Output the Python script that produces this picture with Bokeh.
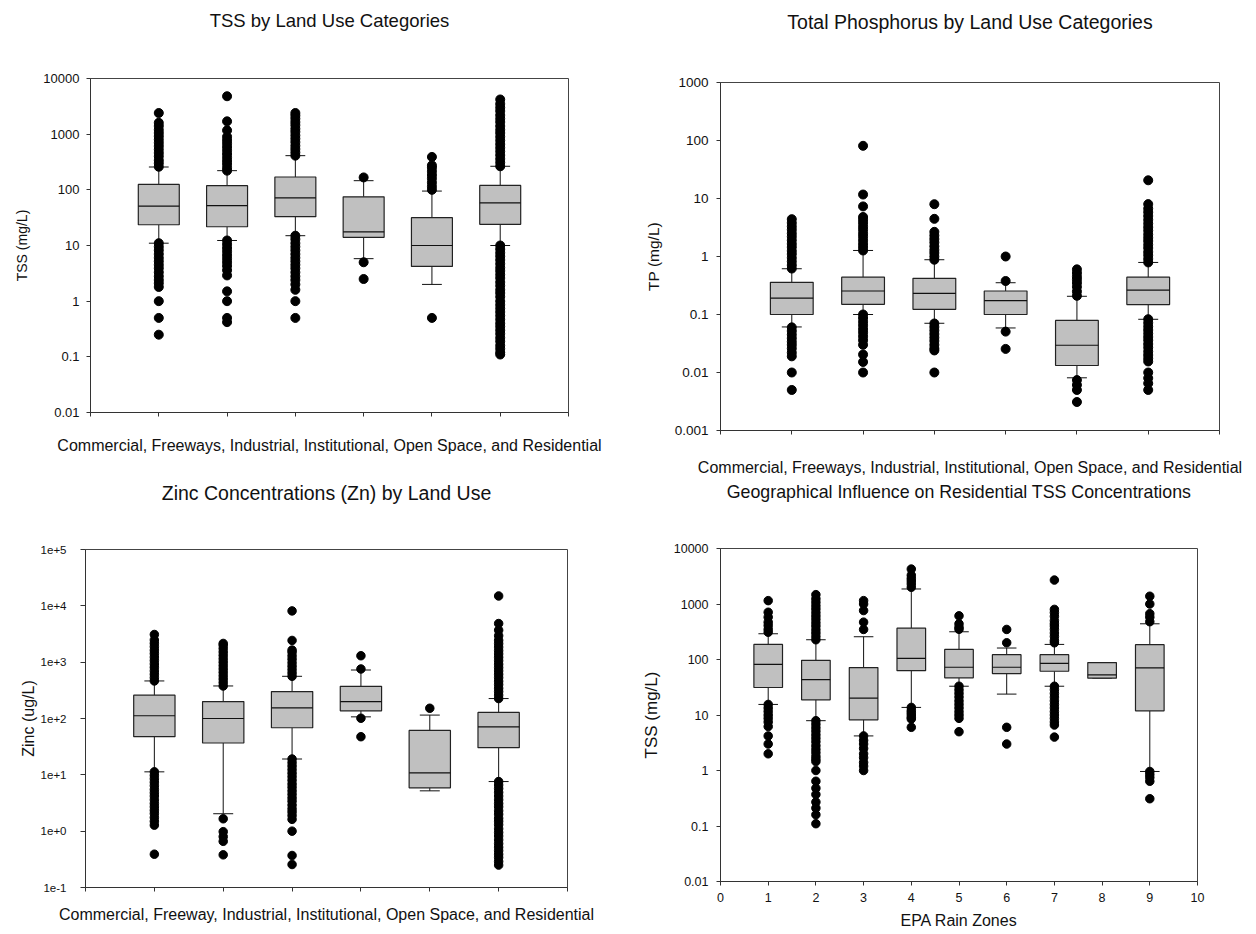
from bokeh.plotting import figure
from bokeh.models import (ColumnDataSource, FixedTicker, CustomJSTickFormatter, Range1d,
                          LinearAxis)
from bokeh.layouts import column, row
from bokeh.embed import file_html
from bokeh.resources import INLINE

FONT = "Liberation Sans"

# ---------------- Panel 1: TSS by land use ----------------
tss_lu_pos = [1, 2, 3, 4, 5, 6]
tss_lu_low = [11, 12.3, 15, 5.8, 2.0, 10]
tss_lu_q1 = [23.6, 21.7, 33, 14, 4.2, 24]
tss_lu_med = [51, 52, 72, 17.6, 10, 58.5]
tss_lu_q3 = [125, 119, 170, 75, 31.6, 120]
tss_lu_high = [257, 221, 411, 146, 95, 265]
tss_lu_out = [
    [260, 300, 340, 400, 460, 530, 610, 700, 800, 920, 1050, 1200, 1400, 1600, 2400,
     11, 9.5, 8.2, 7, 6, 5.2, 4.5, 3.9, 3.3, 2.8, 2.4, 2.1, 1.8, 1, 0.5, 0.25],
    [221, 250, 290, 330, 380, 440, 510, 590, 680, 780, 900, 1170, 1700, 4800,
     12.3, 10.5, 9, 7.8, 6.7, 5.8, 5, 4.3, 3.6, 2.9, 1.5, 1, 0.5, 0.42],
    [411, 470, 540, 620, 720, 830, 950, 1100, 1250, 1450, 1650, 1900, 2150, 2400,
     15, 13, 11, 9.5, 8.2, 7, 6, 5.2, 4.5, 3.9, 3.3, 2.8, 2.4, 2.0, 1.6, 1, 0.5],
    [167, 5.0, 2.5],
    [100, 115, 135, 160, 185, 215, 250, 275, 390, 0.5],
    [265, 310, 360, 420, 490, 570, 660, 770, 900, 1050, 1200, 1400, 1650, 1900, 2200,
     2600, 3000, 3500, 4200,
     10, 8.6, 7.4, 6.4, 5.5, 4.7, 4, 3.5, 3, 2.6, 2.2, 1.9, 1.6, 1.4, 1.2, 1.0, 0.86,
     0.74, 0.64, 0.55, 0.47, 0.4, 0.35, 0.3, 0.26, 0.22, 0.19, 0.16, 0.14, 0.12, 0.11],
]
tss_lu_yticks = [0.01, 0.1, 1, 10, 100, 1000, 10000]
tss_lu_ylabels = ["0.01", "0.1", "1", "10", "100", "1000", "10000"]
tss_lu_xticks = [0, 1, 2, 3, 4, 5, 6, 7]

# ---------------- Panel 2: Total phosphorus by land use ----------------
tp_lu_pos = [1, 2, 3, 4, 5, 6]
tp_lu_low = [0.061, 0.1, 0.0706, 0.0586, 0.0081, 0.0827]
tp_lu_q1 = [0.1, 0.15, 0.123, 0.1, 0.0132, 0.148]
tp_lu_med = [0.192, 0.254, 0.232, 0.173, 0.0295, 0.264]
tp_lu_q3 = [0.358, 0.44, 0.42, 0.254, 0.079, 0.44]
tp_lu_high = [0.615, 1.27, 0.88, 0.353, 0.206, 0.79]
tp_lu_out = [
    [0.62, 0.71, 0.82, 0.95, 1.1, 1.25, 1.45, 1.65, 1.9, 2.2, 2.5, 2.9, 3.3, 3.8, 4.4,
     0.06, 0.052, 0.045, 0.039, 0.034, 0.03, 0.026, 0.022, 0.019, 0.01, 0.005],
    [1.27, 1.45, 1.65, 1.9, 2.2, 2.5, 2.9, 3.3, 3.8, 4.3, 4.8, 7.3, 11.7, 81,
     0.1, 0.087, 0.075, 0.065, 0.056, 0.049, 0.042, 0.036, 0.03, 0.0204, 0.0152, 0.01],
    [0.88, 1.0, 1.15, 1.3, 1.5, 1.75, 2.0, 2.3, 2.66, 4.46, 7.97,
     0.07, 0.061, 0.053, 0.046, 0.04, 0.035, 0.03, 0.026, 0.024, 0.01],
    [1.0, 0.378, 0.0507, 0.0255],
    [0.21, 0.25, 0.3, 0.35, 0.4, 0.45, 0.52, 0.6, 0.0074, 0.0061, 0.005, 0.0031],
    [0.79, 0.91, 1.05, 1.2, 1.4, 1.6, 1.85, 2.1, 2.4, 2.8, 3.2, 3.7, 4.3, 5.0, 5.8, 6.7,
     8.0, 20.6,
     0.083, 0.072, 0.062, 0.054, 0.047, 0.041, 0.036, 0.031, 0.027, 0.023, 0.02, 0.0175,
     0.0155, 0.01, 0.008, 0.0065, 0.005],
]
tp_lu_yticks = [0.001, 0.01, 0.1, 1, 10, 100, 1000]
tp_lu_ylabels = ["0.001", "0.01", "0.1", "1", "10", "100", "1000"]
tp_lu_xticks = [0, 1, 2, 3, 4, 5, 6, 7]

# ---------------- Panel 3: Zinc by land use ----------------
zn_lu_pos = [1, 2, 3, 4, 5, 6]
zn_lu_low = [11.3, 2.04, 19.1, 107, 5.2, 7.6]
zn_lu_q1 = [47.5, 36.7, 68.5, 137, 5.87, 30.3]
zn_lu_med = [112, 100, 155, 200, 10.8, 71.3]
zn_lu_q3 = [259, 200, 300, 373, 61.4, 128]
zn_lu_high = [464, 378, 561, 726, 115, 226]
zn_lu_out = [
    [464, 530, 610, 700, 810, 930, 1070, 1230, 1420, 1630, 1880, 2160, 2480, 3100,
     11.3, 9.8, 8.5, 7.4, 6.4, 5.5, 4.8, 4.2, 3.6, 3.1, 2.7, 2.35, 2.05, 1.75, 1.5, 1.28,
     0.39],
    [378, 435, 500, 575, 660, 760, 870, 1000, 1150, 1320, 1520, 1750, 2000, 2150,
     1.66, 0.98, 0.8, 0.66, 0.38],
    [561, 645, 740, 850, 980, 1130, 1300, 1500, 1640, 2430, 8130,
     19.1, 16.5, 14.3, 12.4, 10.7, 9.3, 8.0, 6.9, 6.0, 5.2, 4.5, 3.9, 3.4, 2.9, 2.5, 2.2,
     1.9, 1.62, 1.0, 0.37, 0.256],
    [1300, 757, 101, 47.5],
    [152],
    [226, 260, 300, 345, 400, 460, 530, 610, 700, 800, 920, 1060, 1220, 1400, 1600, 1850,
     2130, 2450, 2940, 3700, 4850, 14960,
     7.6, 6.6, 5.7, 4.9, 4.2, 3.6, 3.1, 2.7, 2.3, 2.0, 1.7, 1.5, 1.3, 1.1, 0.95, 0.82,
     0.7, 0.6, 0.52, 0.45, 0.39, 0.34, 0.29, 0.25],
]
zn_lu_yticks = [0.1, 1, 10, 100, 1000, 10000, 100000]
zn_lu_ylabels = ["1e-1", "1e+0", "1e+1", "1e+2", "1e+3", "1e+4", "1e+5"]
zn_lu_xticks = [0, 1, 2, 3, 4, 5, 6, 7]

# ---------------- Panel 4: Residential TSS by EPA rain zone ----------------
tss_rz_pos = [1, 2, 3, 4, 5, 6, 7, 8, 9]
tss_rz_low = [15.5, 7.9, 4.2, 13.7, 33, 23.8, 33, 46, 0.96]
tss_rz_q1 = [31.3, 18.8, 8.2, 63, 46.7, 55.8, 61.4, 46, 11.9]
tss_rz_med = [82, 43.5, 20.1, 105, 72.5, 72.5, 85.5, 53, 70.5]
tss_rz_q3 = [187, 96.8, 71.5, 367, 152, 122, 122, 88, 185]
tss_rz_high = [291, 227, 257, 1865, 316, 161, 187, 88, 440]
tss_rz_out = [
    [310, 350, 410, 470, 580, 710, 1150,
     15.5, 13.4, 11.6, 10, 8.7, 7.5, 6.2, 4.2, 3.0, 2.0],
    [227, 260, 300, 345, 400, 460, 530, 610, 700, 810, 930, 1070, 1240, 1475,
     7.9, 6.8, 5.9, 5.1, 4.4, 3.8, 3.3, 2.8, 2.4, 2.1, 1.8, 1.6, 1.45, 1.0, 0.64, 0.48,
     0.37, 0.27, 0.21, 0.16, 0.11],
    [348, 471, 762, 1000, 1150, 4.2, 3.5, 3.0, 2.5, 2.0, 1.7, 1.4, 1.2, 1.0],
    [2000, 2300, 2600, 2900, 3300, 4260, 13.7, 12, 11, 10, 9, 8.5, 6.0],
    [350, 380, 440, 612, 33, 28.5, 24.5, 21, 18, 15.5, 13.4, 11.5, 10, 8.7, 5.0],
    [348, 200, 6.0, 3.0],
    [200, 220, 260, 300, 350, 400, 440, 500, 600, 700, 800, 2700,
     33, 28.5, 24.5, 21, 18, 15.5, 13.4, 11.5, 10, 8.7, 7.5, 6.6, 4.0],
    [],
    [480, 580, 670, 1000, 1380, 0.96, 0.85, 0.75, 0.64, 0.31],
]
tss_rz_yticks = [0.01, 0.1, 1, 10, 100, 1000, 10000]
tss_rz_ylabels = ["0.01", "0.1", "1", "10", "100", "1000", "10000"]
tss_rz_xticks = [0, 1, 2, 3, 4, 5, 6, 7, 8, 9, 10]

BOX_FILL = "#c0c0c0"
INK = "#111111"
AXIS = "#333333"


def make_panel(pos, low, q1, med, q3, high, outliers, yticks, ylabels, xticks, *,
               title, xlabel, ylabel, width, height, borders,
               title_size, title_standoff, tick_size, ylabel_size, ylabel_standoff,
               ytick_standoff, ytick_out, xlabel_standoff, cap, dot,
               show_xtick_labels=False, xtick_standoff=5):
    left, right, top, bottom = borders
    p = figure(width=width, height=height,
               x_range=Range1d(xticks[0], xticks[-1]), y_range=Range1d(yticks[0], yticks[-1]),
               y_axis_type="log", output_backend="svg", toolbar_location=None,
               min_border_left=left, min_border_right=right,
               min_border_top=top, min_border_bottom=bottom)
    try:
        p.frame_align = False
    except Exception:
        pass
    p.background_fill_color = "white"
    p.border_fill_color = "white"
    p.outline_line_color = "#444444"
    p.outline_line_width = 1
    p.xgrid.visible = False
    p.ygrid.visible = False

    bw = 0.6
    src = ColumnDataSource(dict(
        x=pos, low=low, q1=q1, med=med, q3=q3, high=high,
        x0=[v - bw / 2 for v in pos], x1=[v + bw / 2 for v in pos],
        c0=[v - cap / 2 for v in pos], c1=[v + cap / 2 for v in pos]))
    p.segment(x0="x", y0="q3", x1="x", y1="high", source=src, line_color=INK, line_width=1)
    p.segment(x0="x", y0="low", x1="x", y1="q1", source=src, line_color=INK, line_width=1)
    p.segment(x0="c0", y0="high", x1="c1", y1="high", source=src, line_color=INK, line_width=1)
    p.segment(x0="c0", y0="low", x1="c1", y1="low", source=src, line_color=INK, line_width=1)
    p.vbar(x="x", width=bw, bottom="q1", top="q3", source=src,
           fill_color=BOX_FILL, line_color="#222222", line_width=1.2)
    p.segment(x0="x0", y0="med", x1="x1", y1="med", source=src, line_color=INK, line_width=1.2)

    ox = [pos[i] for i, o in enumerate(outliers) for _ in o]
    oy = [v for o in outliers for v in o]
    p.scatter(x=ox, y=oy, size=dot, fill_color="black", line_color="black")

    xax = p.below[0]
    yax = p.left[0]
    xax.ticker = FixedTicker(ticks=xticks, minor_ticks=[])
    yax.ticker = FixedTicker(ticks=yticks, minor_ticks=[])
    yax.major_label_overrides = {t: s for t, s in zip(yticks, ylabels)}
    if ylabels[0].startswith("1e"):
        yax.formatter = CustomJSTickFormatter(code="return tick.toExponential();")
    else:
        yax.formatter = CustomJSTickFormatter(code="return tick.toString();")

    for ax in (xax, yax):
        ax.axis_line_color = AXIS
        ax.major_tick_line_color = AXIS
        ax.major_tick_in = 0
        ax.minor_tick_line_color = None
        ax.major_label_text_font = FONT
        ax.major_label_text_color = INK
        ax.axis_label_text_font = FONT
        ax.axis_label_text_font_style = "normal"
        ax.axis_label_text_color = INK

    yax.major_tick_out = ytick_out
    yax.major_label_text_font_size = tick_size
    yax.major_label_standoff = ytick_standoff
    yax.axis_label = ylabel
    yax.axis_label_text_font_size = ylabel_size
    yax.axis_label_standoff = ylabel_standoff

    xax.major_tick_out = 4
    xax.axis_label = xlabel
    xax.axis_label_text_font_size = "16px"
    xax.axis_label_standoff = xlabel_standoff
    if show_xtick_labels:
        xax.major_label_text_font_size = tick_size
        xax.major_label_standoff = xtick_standoff
    else:
        xax.major_label_text_font_size = "0px"
        xax.major_label_standoff = 0
        xax.formatter = CustomJSTickFormatter(code="return '';")

    # chart title, carried by a bare axis above the frame
    tax = LinearAxis(axis_label=title, ticker=FixedTicker(ticks=[], minor_ticks=[]),
                     axis_line_color=None, major_tick_line_color=None,
                     minor_tick_line_color=None, major_tick_out=0, major_tick_in=0,
                     minor_tick_out=0, minor_tick_in=0, major_label_standoff=0,
                     major_label_text_font_size="0px",
                     axis_label_standoff=title_standoff, axis_label_text_font=FONT,
                     axis_label_text_font_size=title_size,
                     axis_label_text_font_style="normal", axis_label_text_color=INK)
    p.add_layout(tax, "above")
    return p


p1 = make_panel(tss_lu_pos, tss_lu_low, tss_lu_q1, tss_lu_med, tss_lu_q3, tss_lu_high,
                tss_lu_out, tss_lu_yticks, tss_lu_ylabels, tss_lu_xticks,
                title="TSS by Land Use Categories",
                xlabel="Commercial, Freeways, Industrial, Institutional, Open Space, and Residential",
                ylabel="TSS (mg/L)", width=628, height=478,
                borders=(90, 60, 78, 66), title_size="18.5px", title_standoff=48,
                tick_size="13px", ylabel_size="14px", ylabel_standoff=10,
                ytick_standoff=7, ytick_out=4, xlabel_standoff=20, cap=0.29, dot=9)

p2 = make_panel(tp_lu_pos, tp_lu_low, tp_lu_q1, tp_lu_med, tp_lu_q3, tp_lu_high,
                tp_lu_out, tp_lu_yticks, tp_lu_ylabels, tp_lu_xticks,
                title="Total Phosphorus by Land Use Categories",
                xlabel="Commercial, Freeways, Industrial, Institutional, Open Space, and Residential",
                ylabel="TP (mg/L)", width=626, height=478,
                borders=(92, 35, 82, 47), title_size="19.5px", title_standoff=50,
                tick_size="13.5px", ylabel_size="15.5px", ylabel_standoff=10,
                ytick_standoff=8, ytick_out=4, xlabel_standoff=24, cap=0.28, dot=9)

p3 = make_panel(zn_lu_pos, zn_lu_low, zn_lu_q1, zn_lu_med, zn_lu_q3, zn_lu_high,
                zn_lu_out, zn_lu_yticks, zn_lu_ylabels, zn_lu_xticks,
                title="Zinc Concentrations (Zn) by Land Use",
                xlabel="Commercial, Freeway, Industrial, Institutional, Open Space, and Residential",
                ylabel="Zinc (ug/L)", width=628, height=454,
                borders=(85, 61, 69, 45), title_size="19.5px", title_standoff=46,
                tick_size="11.5px", ylabel_size="16px", ylabel_standoff=1,
                ytick_standoff=14, ytick_out=5, xlabel_standoff=14, cap=0.29, dot=8.5)

p4 = make_panel(tss_rz_pos, tss_rz_low, tss_rz_q1, tss_rz_med, tss_rz_q3, tss_rz_high,
                tss_rz_out, tss_rz_yticks, tss_rz_ylabels, tss_rz_xticks,
                title="Geographical Influence on Residential TSS Concentrations",
                xlabel="EPA Rain Zones",
                ylabel="TSS (mg/L)", width=626, height=454,
                borders=(92, 57, 68, 51), title_size="17.8px", title_standoff=47,
                tick_size="12.5px", ylabel_size="17px", ylabel_standoff=10,
                ytick_standoff=8, ytick_out=4, xlabel_standoff=7, cap=0.41, dot=8.5,
                show_xtick_labels=True, xtick_standoff=7)

layout = column(row(p1, p2), row(p3, p4))

with open("out.html", "w") as f:
    f.write(file_html(layout, INLINE))
